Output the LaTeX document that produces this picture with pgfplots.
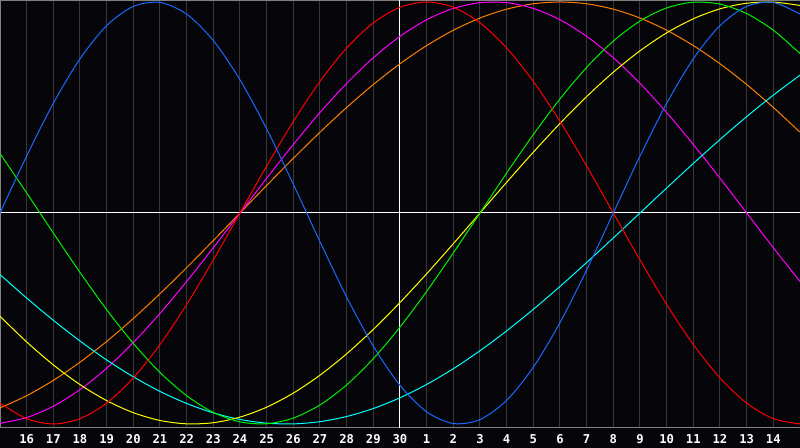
\documentclass[border=0pt]{standalone}
\usepackage{fontspec}
\newfontfamily\tickfont{DejaVu Sans Mono}
\usepackage{pgfplots}
\usepackage{pgfplotstable}
\pgfplotsset{compat=1.18}

\definecolor{bg}{RGB}{6,5,10}
\definecolor{gridc}{RGB}{55,55,58}
\definecolor{framec}{RGB}{128,128,128}
\definecolor{cblue}{RGB}{25,105,255}
\definecolor{cred}{RGB}{255,0,0}
\definecolor{cmag}{RGB}{255,0,255}
\definecolor{corange}{RGB}{255,128,0}
\definecolor{cgreen}{RGB}{0,240,0}
\definecolor{cyellow}{RGB}{255,255,0}
\definecolor{ccyan}{RGB}{0,255,255}

% day index k (k=1 is the 16th, k=15 the 30th, k=16 the 1st), cycle values
\pgfplotstableread{
k  blue    red     mag     orange  green   yellow  cyan
0  0       -0.9010 -0.9966 -0.9239 0.2817  -0.4894 -0.2921
1  0.2698  -0.9749 -0.9694 -0.8660 0.0951  -0.6112 -0.4031
2  0.5196  -1      -0.9158 -0.7934 -0.0951 -0.7199 -0.5085
3  0.7308  -0.9749 -0.8372 -0.7071 -0.2817 -0.8133 -0.6068
4  0.8879  -0.9010 -0.7357 -0.6088 -0.4582 -0.8893 -0.6966
5  0.9791  -0.7818 -0.6142 -0.5    -0.6182 -0.9464 -0.7765
6  0.9977  -0.6235 -0.4759 -0.3827 -0.7557 -0.9834 -0.8456
7  0.9423  -0.4339 -0.3247 -0.2588 -0.8660 -0.9993 -0.9028
8  0.8170  -0.2225 -0.1646 -0.1305 -0.9450 -0.9940 -0.9473
9  0.6311  0       0       0       -0.9898 -0.9675 -0.9786
10 0.3984  0.2225  0.1646  0.1305  -0.9989 -0.9203 -0.9960
11 0.1362  0.4339  0.3247  0.2588  -0.9718 -0.8536 -0.9996
12 -0.1362 0.6235  0.4759  0.3827  -0.9096 -0.7686 -0.9890
13 -0.3984 0.7818  0.6142  0.5     -0.8146 -0.6673 -0.9646
14 -0.6311 0.9010  0.7357  0.6088  -0.6901 -0.5517 -0.9267
15 -0.8170 0.9749  0.8372  0.7071  -0.5406 -0.4244 -0.8757
16 -0.9423 1       0.9158  0.7934  -0.3717 -0.2881 -0.8125
17 -0.9977 0.9749  0.9694  0.8660  -0.1893 -0.1456 -0.7379
18 -0.9791 0.9010  0.9966  0.9239  0       0       -0.6529
19 -0.8879 0.7818  0.9966  0.9659  0.1893  0.1456  -0.5586
20 -0.7308 0.6235  0.9694  0.9914  0.3717  0.2881  -0.4566
21 -0.5196 0.4339  0.9158  1       0.5406  0.4244  -0.3482
22 -0.2698 0.2225  0.8372  0.9914  0.6901  0.5517  -0.2348
23 0       0       0.7357  0.9659  0.8146  0.6673  -0.1183
24 0.2698  -0.2225 0.6142  0.9239  0.9096  0.7686  0
25 0.5196  -0.4339 0.4759  0.8660  0.9718  0.8536  0.1183
26 0.7308  -0.6235 0.3247  0.7934  0.9989  0.9203  0.2348
27 0.8879  -0.7818 0.1646  0.7071  0.9898  0.9675  0.3482
28 0.9791  -0.9010 0       0.6088  0.9450  0.9940  0.4566
29 0.9977  -0.9749 -0.1646 0.5     0.8660  0.9993  0.5586
30 0.9423  -1      -0.3247 0.3827  0.7557  0.9834  0.6529
}\cycles

\begin{document}
\begin{tikzpicture}[x=1pt,y=1pt]
\fill[bg] (0,0) rectangle (400,224);
\useasboundingbox (0,0) rectangle (400,224);
\begin{axis}[
  at={(0pt,10pt)}, anchor=south west,
  scale only axis, width=400pt, height=213.75pt,
  xmin=0, xmax=30, ymin=-1.019, ymax=1.007,
  axis line style={draw=none},
  clip mode=individual,
  xtick={1,...,29},
  xticklabels={16,17,18,19,20,21,22,23,24,25,26,27,28,29,30,1,2,3,4,5,6,7,8,9,10,11,12,13,14},
  ytick=\empty,
  major tick length=0pt,
  xmajorgrids,
  grid style={gridc, line width=0.5pt},
  xticklabel style={font=\tickfont\bfseries\fontsize{6.1}{7}\selectfont,
    text=white, anchor=base, yshift=-7.6pt},
  every axis plot/.append style={line width=0.5pt, smooth, no markers},
]
\draw[framec, line width=0.5pt] (rel axis cs:1,1) -- (rel axis cs:0,1)
  -- (rel axis cs:0,0) -- (rel axis cs:1,0);
\draw[white, line width=0.5pt] (15,-1.019) -- (15,1.007);
\draw[white, line width=0.5pt] (0,0) -- (30,0);
\addplot[corange] table[x=k, y=orange] {\cycles};
\addplot[cmag]    table[x=k, y=mag]    {\cycles};
\addplot[ccyan]   table[x=k, y=cyan]   {\cycles};
\addplot[cyellow] table[x=k, y=yellow] {\cycles};
\addplot[cgreen]  table[x=k, y=green]  {\cycles};
\addplot[cred]    table[x=k, y=red]    {\cycles};
\addplot[cblue]   table[x=k, y=blue]   {\cycles};
\end{axis}
\end{tikzpicture}
\end{document}
